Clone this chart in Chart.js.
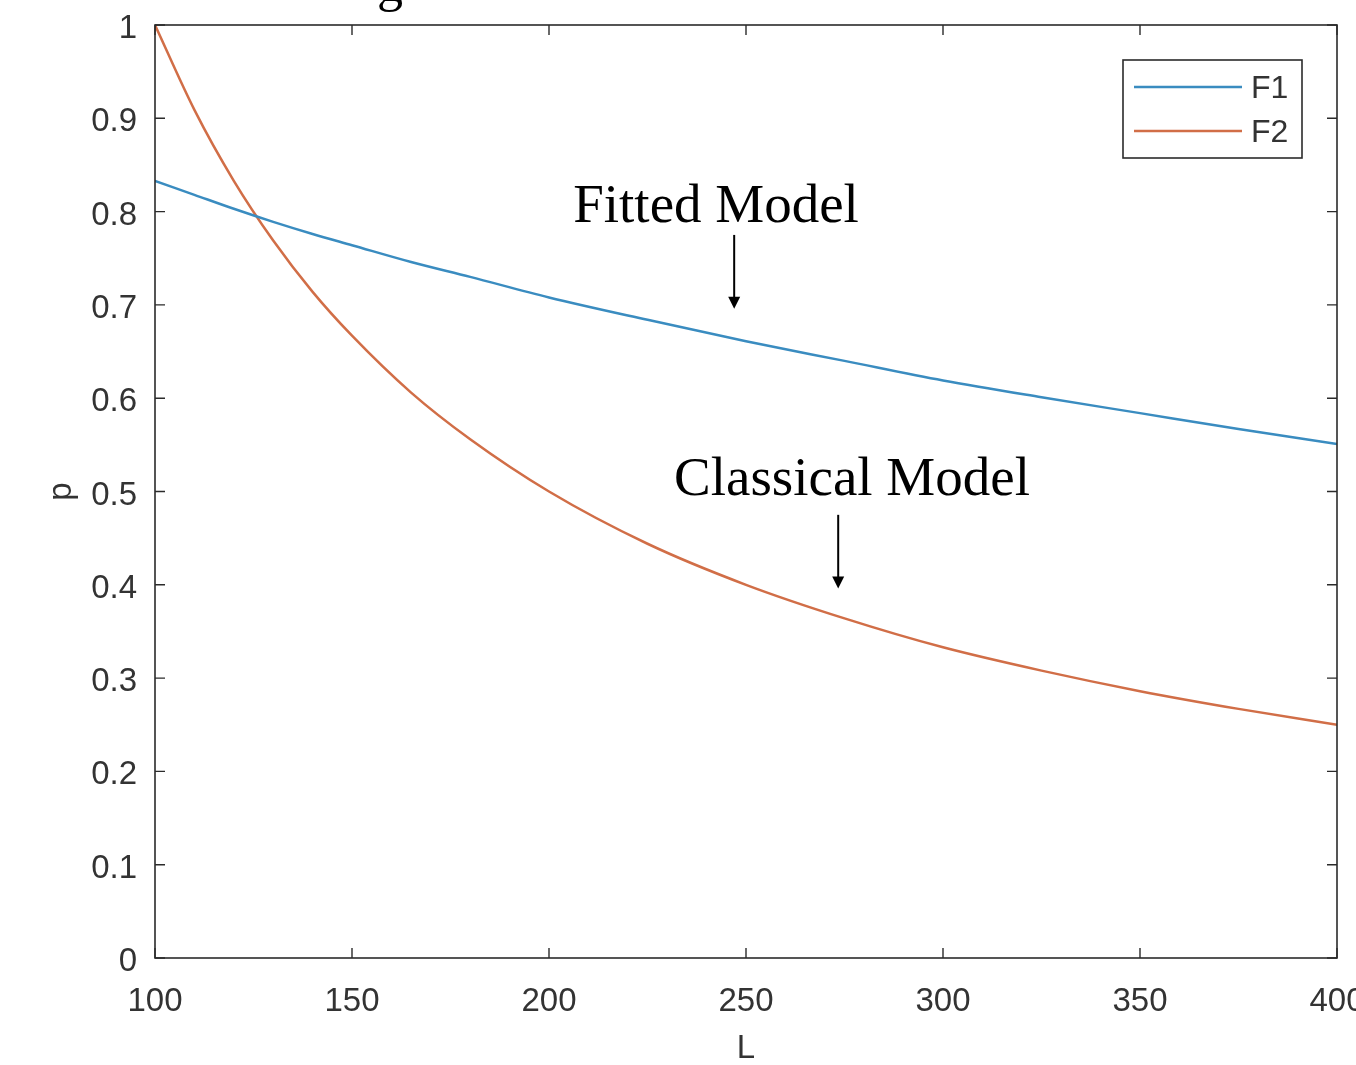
<!DOCTYPE html>
<html>
<head>
<meta charset="utf-8">
<script src="https://cdn.jsdelivr.net/npm/chart.js@4.4.1/dist/chart.umd.min.js"></script>
<style>
  html, body { margin: 0; padding: 0; background: #fff; }
  #wrap { width: 1356px; height: 1065px; position: relative; }
</style>
</head>
<body>
<div id="wrap"><canvas id="pChart"></canvas></div>
<script>
// values
const L = [100, 110, 120, 130, 140, 150, 165, 180, 200, 225, 250, 275, 300, 325, 350, 375, 400];
const F1 = [0.833, 0.818, 0.803, 0.789, 0.776, 0.764, 0.746, 0.730, 0.708, 0.684, 0.661, 0.640, 0.619, 0.601, 0.584, 0.567, 0.551];
const F2 = [1.000, 0.909, 0.833, 0.769, 0.714, 0.667, 0.606, 0.556, 0.500, 0.444, 0.400, 0.364, 0.333, 0.308, 0.286, 0.267, 0.250];
const xTicks = [100, 150, 200, 250, 300, 350, 400];
const yTicks = [0, 0.1, 0.2, 0.3, 0.4, 0.5, 0.6, 0.7, 0.8, 0.9, 1];
const yTickLabels = ['0', '0.1', '0.2', '0.3', '0.4', '0.5', '0.6', '0.7', '0.8', '0.9', '1'];

const axisColor = '#2b2b2b';
const textColor = '#333333';
const sans = 'Liberation Sans, Arial, sans-serif';
const serif = 'Liberation Serif, Times New Roman, serif';

// annotation text + arrows, placed in data units
const notes = [
  { text: 'Fitted Model', x: 242.4, y: 0.789, ax: 247.0, ay1: 0.775, ay2: 0.696 },
  { text: 'Classical Model', x: 276.9, y: 0.496, ax: 273.4, ay1: 0.475, ay2: 0.396 }
];

const framePlugin = {
  id: 'frame',
  afterDraw(chart) {
    const ctx = chart.ctx;
    const a = chart.chartArea;
    const xs = chart.scales.x, ys = chart.scales.y;
    ctx.save();

    // box
    ctx.strokeStyle = axisColor;
    ctx.lineWidth = 1.6;
    ctx.strokeRect(a.left, a.top, a.right - a.left, a.bottom - a.top);

    // inward ticks on all four sides
    ctx.lineWidth = 1.4;
    ctx.beginPath();
    xTicks.forEach(v => {
      const px = xs.getPixelForValue(v);
      ctx.moveTo(px, a.bottom); ctx.lineTo(px, a.bottom - 10);
      ctx.moveTo(px, a.top); ctx.lineTo(px, a.top + 10);
    });
    yTicks.forEach(v => {
      const py = ys.getPixelForValue(v);
      ctx.moveTo(a.left, py); ctx.lineTo(a.left + 10, py);
      ctx.moveTo(a.right, py); ctx.lineTo(a.right - 10, py);
    });
    ctx.stroke();

    // legend box
    const bw = 179, bh = 98;
    const bx = a.right - 35 - bw, by = a.top + 35;
    ctx.fillStyle = '#fff';
    ctx.fillRect(bx, by, bw, bh);
    ctx.lineWidth = 1.6;
    ctx.strokeStyle = axisColor;
    ctx.strokeRect(bx, by, bw, bh);
    chart.data.datasets.forEach((ds, i) => {
      const ly = by + 27 + i * 44;
      ctx.strokeStyle = ds.borderColor;
      ctx.lineWidth = 2.5;
      ctx.beginPath();
      ctx.moveTo(bx + 11, ly); ctx.lineTo(bx + 119, ly);
      ctx.stroke();
      ctx.fillStyle = textColor;
      ctx.font = '32px ' + sans;
      ctx.textAlign = 'left';
      ctx.textBaseline = 'middle';
      ctx.fillText(ds.label, bx + 128, ly + 2);
    });

    // annotations
    ctx.fillStyle = '#000';
    ctx.strokeStyle = '#000';
    notes.forEach(n => {
      ctx.font = '55px ' + serif;
      ctx.textAlign = 'center';
      ctx.textBaseline = 'alphabetic';
      ctx.fillText(n.text, xs.getPixelForValue(n.x), ys.getPixelForValue(n.y));
      const ax = xs.getPixelForValue(n.ax);
      const y1 = ys.getPixelForValue(n.ay1), y2 = ys.getPixelForValue(n.ay2);
      ctx.lineWidth = 2;
      ctx.beginPath();
      ctx.moveTo(ax, y1); ctx.lineTo(ax, y2 - 10);
      ctx.stroke();
      ctx.beginPath();
      ctx.moveTo(ax - 6, y2 - 12); ctx.lineTo(ax + 6, y2 - 12); ctx.lineTo(ax, y2);
      ctx.closePath();
      ctx.fill();
    });

    // tail of the cropped title above the plot
    ctx.font = '52px ' + serif;
    ctx.textAlign = 'left';
    ctx.textBaseline = 'alphabetic';
    ctx.fillText('g', 377, 1);

    ctx.restore();
  }
};

new Chart(document.getElementById('pChart').getContext('2d'), {
  type: 'line',
  data: {
    datasets: [
      {
        label: 'F1',
        data: L.map((x, i) => ({ x: x, y: F1[i] })),
        borderColor: '#3a8cc0',
        borderWidth: 2.5,
        pointRadius: 0,
        cubicInterpolationMode: 'monotone',
        fill: false
      },
      {
        label: 'F2',
        data: L.map((x, i) => ({ x: x, y: F2[i] })),
        borderColor: '#d16e47',
        borderWidth: 2.5,
        pointRadius: 0,
        cubicInterpolationMode: 'monotone',
        fill: false
      }
    ]
  },
  options: {
    responsive: true,
    maintainAspectRatio: false,
    animation: false,
    layout: { padding: { left: 38, top: 25, right: 19, bottom: 0 } },
    plugins: {
      legend: { display: false },
      tooltip: { enabled: false }
    },
    scales: {
      x: {
        type: 'linear',
        min: 100,
        max: 400,
        afterBuildTicks(s) { s.ticks = xTicks.map(v => ({ value: v })); },
        ticks: {
          callback: v => String(v),
          color: textColor,
          padding: 24,
          maxRotation: 0,
          autoSkip: false,
          font: { family: sans, size: 33 }
        },
        grid: { display: false, drawTicks: false },
        border: { display: false },
        title: { display: true, text: 'L', color: textColor, font: { family: sans, size: 33, lineHeight: 0.75 } },
        afterFit(s) { s.height = 107; s.paddingLeft = 0; s.paddingRight = 0; }
      },
      y: {
        min: 0,
        max: 1,
        afterBuildTicks(s) { s.ticks = yTicks.map(v => ({ value: v })); },
        ticks: {
          callback: (v, i) => yTickLabels[i],
          color: textColor,
          padding: 18,
          labelOffset: 4,
          autoSkip: false,
          font: { family: sans, size: 33 }
        },
        grid: { display: false, drawTicks: false },
        border: { display: false },
        title: { display: true, text: 'p', color: textColor, font: { family: sans, size: 33 } },
        afterFit(s) { s.width = 117; s.paddingTop = 0; s.paddingBottom = 0; }
      }
    }
  },
  plugins: [framePlugin]
});
</script>
</body>
</html>
